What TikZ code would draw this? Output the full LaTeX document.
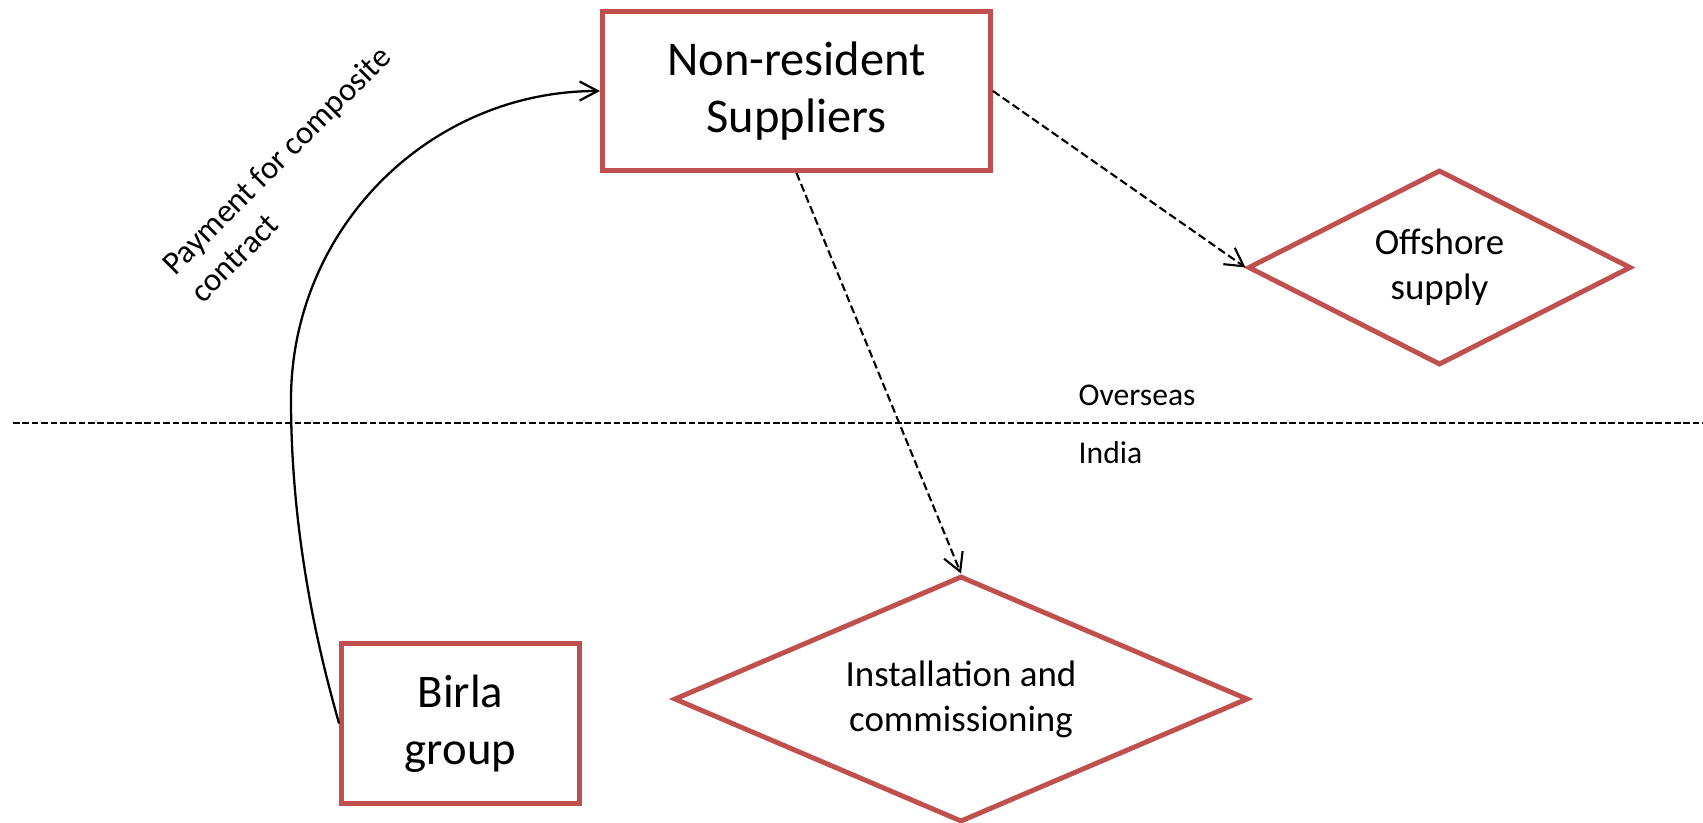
\documentclass[tikz,border=0pt]{standalone}
\usepackage{fontspec}
\setmainfont{Carlito}
\usepackage{tikz}
\usetikzlibrary{shapes.geometric, arrows.meta}
\definecolor{boxred}{HTML}{C0504D}

\begin{document}
\begin{tikzpicture}
\tikzset{box/.style={rectangle, draw=boxred, line width=1.4pt, inner sep=0pt, align=center, font=\fontsize{13.3}{16.2}\selectfont},
choice/.style={diamond, draw=boxred, line width=1.4pt, aspect=2.3, inner sep=0pt, align=center, font=\fontsize{10.5}{12.8}\selectfont},
flow/.style={black, line width=0.6pt, dash pattern=on 2.3pt off 1.1pt, -{Straight Barb[length=1.8mm,width=2mm]}},
pay/.style={black, line width=0.65pt, -{Straight Barb[length=1.8mm,width=1.9mm]}},
border/.style={black, line width=0.57pt, dash pattern=on 1.9pt off 0.77pt},
side/.style={anchor=base west, inner sep=0pt, font=\fontsize{9}{11}\selectfont}}

\useasboundingbox (0,0) rectangle (17.03,-8.22);

% parties and services
\node [box, minimum width=3.88cm, minimum height=1.59cm, font=\fontsize{13.8}{16.2}\selectfont] (supp) at (7.965,-0.91) {Non-resident\\Suppliers};
\node [box, minimum width=2.38cm, minimum height=1.60cm] (birla) at (4.605,-7.235) {Birla\\group};
\node [choice, minimum width=3.83cm, minimum height=1.95cm] (off) at (14.395,-2.675) {Offshore\\supply};
\node [choice, minimum width=5.74cm, minimum height=2.46cm] (inst) at (9.61,-6.99) {Installation and\\commissioning};

% overseas / india split
\draw [border] (0.13,-4.23) -- (17.03,-4.23);
\node [side] (over) at (10.78,-4.05) {Overseas};
\node [side] (ind) at (10.78,-4.63) {India};

% payment
\draw [pay] (birla.west) .. controls (3.30,-6.9) and (2.91,-5.6) .. (2.91,-4.0) .. controls (2.91,-2.29) and (4.29,-0.91) .. (supp.west);
\node [rotate=45, align=left, inner sep=0pt, font=\fontsize{9.3}{11.2}\selectfont] (paytext) at (2.90,-1.74) {Payment for composite\\contract};

\draw [flow] (supp.east) to (off.west);
\draw [flow] (supp.south) to (inst.north);

\end{tikzpicture}
\end{document}
